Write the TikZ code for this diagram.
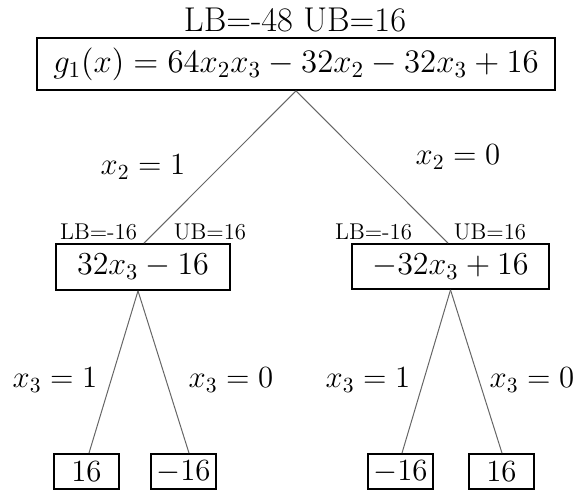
\RequirePackage{fix-cm}
\documentclass[tikz,border=0pt]{standalone}
\begin{document}
\begin{tikzpicture}[x=0.5pt,y=-0.5pt,
  box/.style={draw, line width=0.9pt, inner sep=0pt, font=\fontsize{15.4}{18}\selectfont},
  edge/.style={draw=black!60, line width=0.5pt},
  lbl/.style={font=\fontsize{15.4}{18}\selectfont, inner sep=0pt},
  bnd/.style={font=\fontsize{11.4}{13}\selectfont, inner sep=0pt}]
\useasboundingbox (0,0) rectangle (579,492);
\node[lbl, anchor=base, font=\fontsize{17.2}{20}\selectfont] (title) at (295,31.5) {LB=-48 UB=16};
\node[box, minimum width=259pt, minimum height=26pt, font=\fontsize{16.4}{19}\selectfont] (root) at (296,64) {$g_1(x) = 64x_2x_3 - 32x_2 - 32x_3 + 16$};
\node[box, minimum width=87pt, minimum height=23pt, font=\fontsize{16}{19}\selectfont] (lc) at (143,267) {$32x_3 - 16$};
\node[box, minimum width=98.5pt, minimum height=22.5pt, font=\fontsize{16}{19}\selectfont] (rc) at (450.5,266.5) {$-32x_3 + 16$};
\node[box, minimum width=32.5pt, minimum height=17.5pt] (l1) at (86.5,471.5) {$16$};
\node[box, minimum width=32.5pt, minimum height=17.5pt] (l2) at (183.5,471.5) {$-16$};
\node[box, minimum width=32.5pt, minimum height=17.5pt] (r1) at (400.5,471.5) {$-16$};
\node[box, minimum width=32.5pt, minimum height=17.5pt] (r2) at (501.5,471.5) {$16$};
\node[bnd] (lclb) at (98.5,232) {LB=-16};
\node[bnd] (lcub) at (210,232) {UB=16};
\node[bnd] (rclb) at (373.5,232) {LB=-16};
\node[bnd] (rcub) at (490,232) {UB=16};
\node[lbl] (e1) at (143,167) {$x_2 = 1$};
\node[lbl] (e2) at (458,157) {$x_2 = 0$};
\node[lbl] (e3) at (55,380) {$x_3 = 1$};
\node[lbl] (e4) at (231,380) {$x_3 = 0$};
\node[lbl] (e5) at (368,380) {$x_3 = 1$};
\node[lbl] (e6) at (532,380) {$x_3 = 0$};
\draw[edge] (root.south) -- ([xshift=0.5pt]lc.north);
\draw[edge] (root.south) -- ([xshift=-1.25pt]rc.north);
\draw[edge] ([xshift=-2.5pt]lc.south) -- ([xshift=1.25pt]l1.north);
\draw[edge] ([xshift=-2.5pt]lc.south) -- ([xshift=2.75pt]l2.north);
\draw[edge] (rc.south) -- ([xshift=0.75pt]r1.north);
\draw[edge] (rc.south) -- ([xshift=0.25pt]r2.north);
\end{tikzpicture}
\end{document}
